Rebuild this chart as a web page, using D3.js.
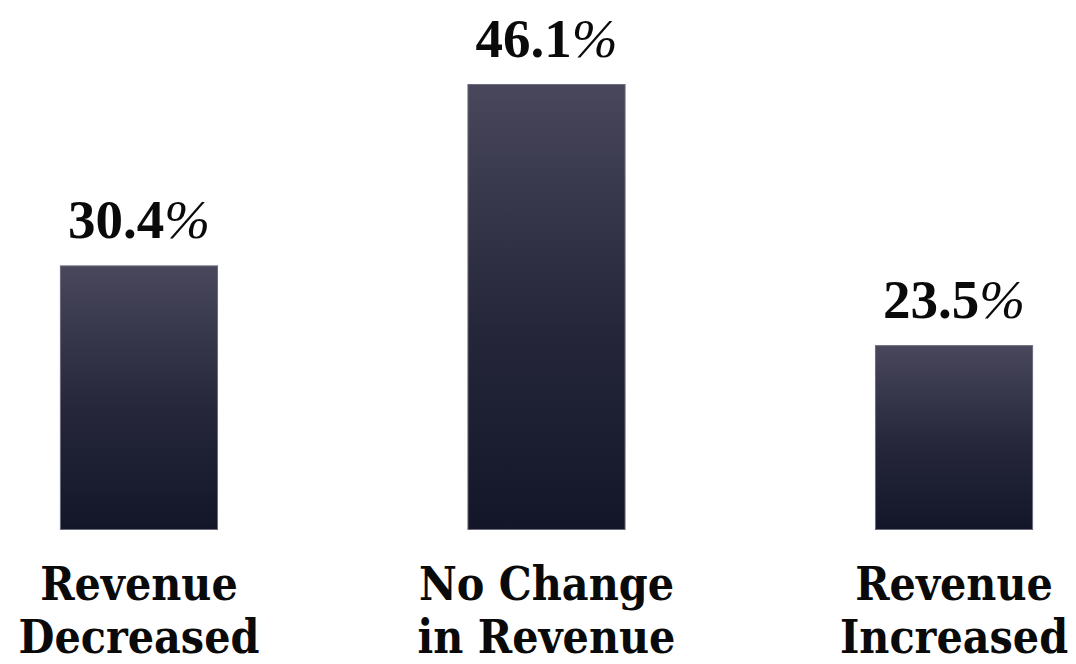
<!DOCTYPE html>
<html>
<head>
<meta charset="utf-8">
<script src="https://cdn.jsdelivr.net/npm/d3@7"></script>
<style>
  html, body { margin: 0; padding: 0; background: #ffffff; }
  svg { display: block; }
</style>
</head>
<body>
<svg id="chart" width="1076" height="664"></svg>
<script>
// Share of respondents by revenue change
const categories = ["Revenue Decreased", "No Change in Revenue", "Revenue Increased"];
const labelLines = [["Revenue", "Decreased"], ["No Change", "in Revenue"], ["Revenue", "Increased"]];
const values = [30.4, 46.1, 23.5];

const svg = d3.select("#chart");
const baseline = 530;

const x = d3.scaleBand()
  .domain(categories)
  .range([0, 1093])
  .paddingInner(0.612)
  .paddingOuter(0.147);

const y = d3.scaleLinear()
  .domain([7.5, 46.1])
  .range([baseline, 84]);

// vertical gradient for bars: slate on top, deep navy at the base
const defs = svg.append("defs");
const grad = defs.append("linearGradient")
  .attr("id", "barFill")
  .attr("x1", 0).attr("y1", 0).attr("x2", 0).attr("y2", 1);
grad.append("stop").attr("offset", "0%").attr("stop-color", "#48475b");
grad.append("stop").attr("offset", "55%").attr("stop-color", "#25263a");
grad.append("stop").attr("offset", "100%").attr("stop-color", "#131628");

svg.append("g")
  .selectAll("rect")
  .data(values)
  .join("rect")
  .attr("x", (d, i) => x(categories[i]) + 0.5)
  .attr("y", d => y(d) + 0.5)
  .attr("width", x.bandwidth() - 1)
  .attr("height", d => baseline - y(d) - 1)
  .attr("fill", "url(#barFill)")
  .attr("stroke", "#6c6b7c")
  .attr("stroke-width", 1);

const serif = "'Liberation Serif', 'DejaVu Serif', serif";
const labelFont = "'DejaVu Serif Condensed', 'DejaVu Serif', serif";

// value labels above bars, with a slanted percent sign
const vals = svg.append("g")
  .selectAll("text")
  .data(values)
  .join("text")
  .attr("x", (d, i) => x(categories[i]) + x.bandwidth() / 2)
  .attr("y", d => y(d) - 27)
  .attr("text-anchor", "middle")
  .attr("font-family", serif)
  .attr("font-weight", "bold")
  .attr("font-size", 55)
  .attr("fill", "#0a0a0a");
vals.append("tspan").text(d => d.toFixed(1));
vals.append("tspan")
  .attr("font-style", "italic")
  .attr("font-weight", "normal")
  .text("%");

// category labels, one text per line
const catG = svg.append("g");
labelLines.forEach((lines, i) => {
  lines.forEach((line, j) => {
    catG.append("text")
      .attr("x", x(categories[i]) + x.bandwidth() / 2)
      .attr("y", 600 + j * 53)
      .attr("text-anchor", "middle")
      .attr("font-family", labelFont)
      .attr("font-stretch", "condensed")
      .attr("font-weight", "bold")
      .attr("font-size", 46)
      .attr("fill", "#0a0a0a")
      .text(line);
  });
});
</script>
</body>
</html>
